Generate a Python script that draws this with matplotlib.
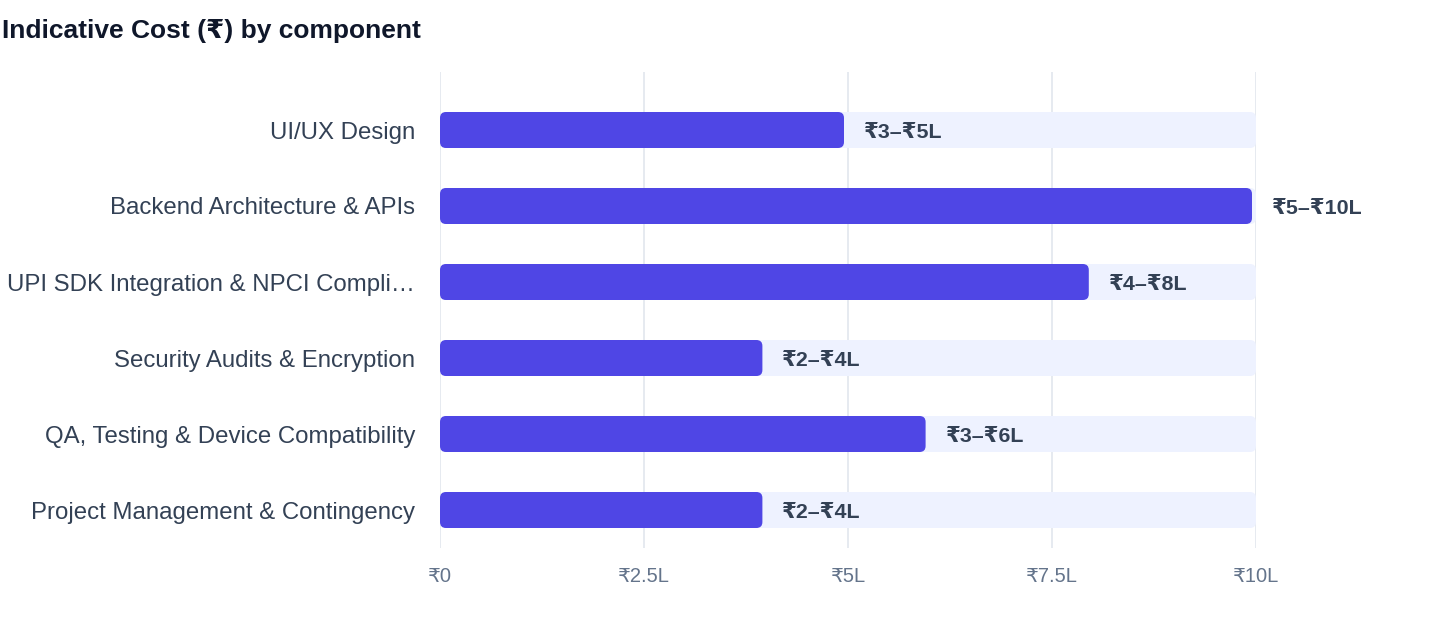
import matplotlib.pyplot as plt
from matplotlib.patches import FancyBboxPatch

components = [
    "UI/UX Design",
    "Backend Architecture & APIs",
    "UPI SDK Integration & NPCI Compli…",
    "Security Audits & Encryption",
    "QA, Testing & Device Compatibility",
    "Project Management & Contingency",
]
cost_low = [3, 5, 4, 2, 3, 2]
cost_high = [5, 10, 8, 4, 6, 4]
axis_max = 10
tick_vals = [0, 2.5, 5, 7.5, 10]
tick_labels = ["₹0", "₹2.5L", "₹5L", "₹7.5L", "₹10L"]

plt.rcParams["font.family"] = ["Liberation Sans", "DejaVu Sans"]

fig = plt.figure(figsize=(14.4, 6.36), dpi=100)
ax = fig.add_axes([440 / 1440, 1 - 548 / 636, 816 / 1440, 476 / 636])

bar_h = 36 / 76
px_x = axis_max / 816
rs = 6 * px_x
aspect = (1 / 76) / px_x

for i, (lo, hi) in enumerate(zip(cost_low, cost_high)):
    track = FancyBboxPatch((0, i - bar_h / 2), axis_max, bar_h,
                           boxstyle=f"round,pad=0,rounding_size={rs}",
                           mutation_aspect=aspect, fc="#eef2ff", ec="none", zorder=2)
    ax.add_patch(track)
    bar = FancyBboxPatch((0, i - bar_h / 2), hi - 4 * px_x, bar_h,
                         boxstyle=f"round,pad=0,rounding_size={rs}",
                         mutation_aspect=aspect, fc="#4f46e5", ec="none", zorder=3)
    ax.add_patch(bar)
    ax.text(hi + 16 * px_x, i, f"₹{lo}–₹{hi}L", va="center_baseline", ha="left",
            fontsize=15.4, fontweight="bold", color="#334155", zorder=4)

ax.set_xlim(0, axis_max)
ax.set_ylim(5.5, -(130 - 72) / 76)
ax.set_yticks(range(len(components)))
ax.set_yticklabels(components, fontsize=17.3, color="#334155")
ax.set_xticks(tick_vals)
ax.set_xticklabels(tick_labels, fontsize=14.5, color="#64748b")
ax.tick_params(axis="y", length=0, pad=18)
ax.tick_params(axis="x", length=0, pad=14)
for s in ax.spines.values():
    s.set_visible(False)
ax.grid(axis="x", color="#e2e6ee", linewidth=1.2, zorder=0)
ax.set_axisbelow(True)

fig.text(2 / 1440, 1 - 31 / 636, "Indicative Cost (₹) by component", fontsize=19,
         fontweight="bold", color="#0f172a", va="center", ha="left")

fig.savefig("out.png", dpi=100, facecolor="white")
